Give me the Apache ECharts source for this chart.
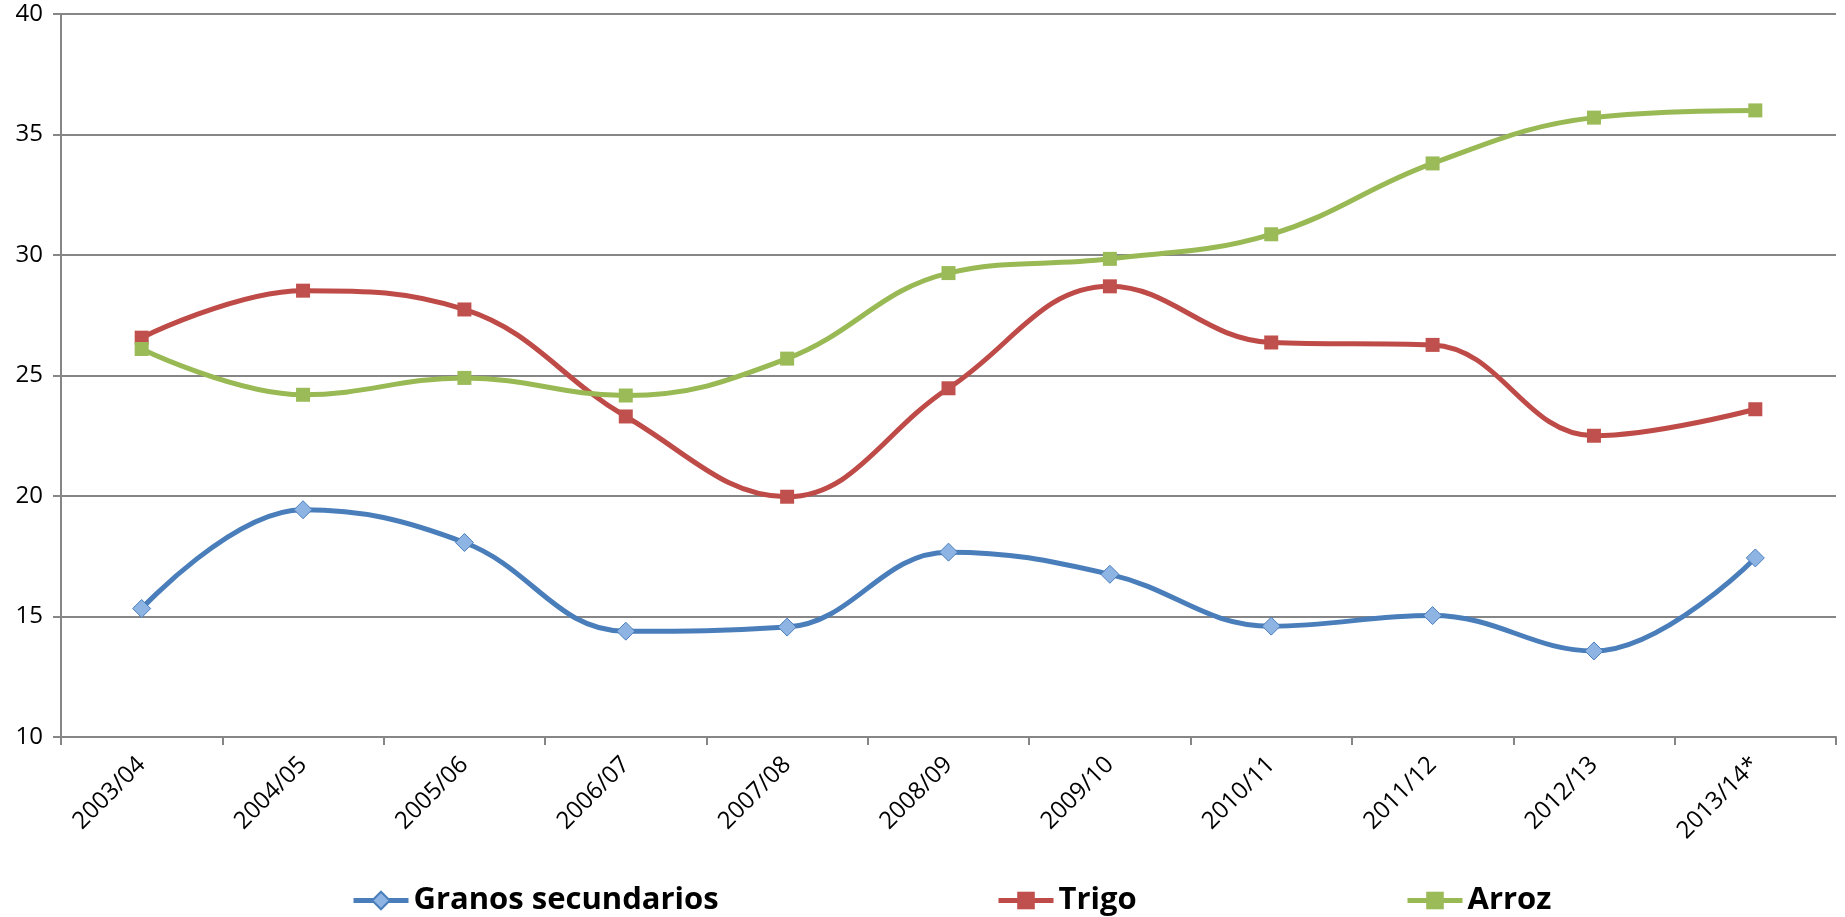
<!DOCTYPE html>
<html>
<head>
<meta charset="utf-8">
<script src="https://cdn.jsdelivr.net/npm/echarts@6/dist/echarts.min.js"></script>
<style>
html,body{margin:0;padding:0;background:#fff;}
#c{width:1845px;height:917px;}
</style>
</head>
<body>
<div id="c"></div>
<script>
const categories = ['2003/04','2004/05','2005/06','2006/07','2007/08','2008/09','2009/10','2010/11','2011/12','2012/13','2013/14*'];
const granos = [15.33, 19.43, 18.07, 14.39, 14.56, 17.67, 16.75, 14.6, 15.04, 13.57, 17.43];
const trigo = [26.57, 28.52, 27.74, 23.3, 19.97, 24.47, 28.7, 26.37, 26.27, 22.5, 23.6];
const arroz = [26.1, 24.2, 24.9, 24.17, 25.7, 29.25, 29.84, 30.86, 33.8, 35.7, 36.0];
const yTicks = {min: 10, max: 40, interval: 5};

const FONT = '"Open Sans", sans-serif';
const chart = echarts.init(document.getElementById('c'));
const legendBase = {
  orient: 'horizontal', top: 880, itemWidth: 55, itemHeight: 22, itemGap: 6,
  lineStyle: {width: 5},
  textStyle: {fontFamily: FONT, fontWeight: 'bold', fontSize: 31, color: '#000'}
};
const SMOOTH = 0.4;
chart.setOption({
  animation: false,
  grid: {left: 61, right: 9, top: 14, bottom: 180, containLabel: false},
  legend: [
    Object.assign({}, legendBase, {left: 346, data: ['Granos secundarios']}),
    Object.assign({}, legendBase, {left: 991, data: ['Trigo']}),
    Object.assign({}, legendBase, {left: 1400, data: ['Arroz']})
  ],
  xAxis: {
    type: 'category', data: categories, boundaryGap: true,
    axisLine: {lineStyle: {color: '#868686', width: 2}},
    axisTick: {show: true, length: 8, alignWithLabel: false, lineStyle: {color: '#868686', width: 2}},
    axisLabel: {rotate: 45, margin: 24, fontFamily: FONT, fontSize: 24, color: '#000', interval: 0}
  },
  yAxis: {
    type: 'value', min: yTicks.min, max: yTicks.max, interval: yTicks.interval,
    axisLine: {show: true, lineStyle: {color: '#868686', width: 2}},
    axisTick: {show: true, length: 8, inside: false, lineStyle: {color: '#868686', width: 2}},
    splitLine: {show: true, lineStyle: {color: '#868686', width: 2}},
    axisLabel: {margin: 18, fontFamily: FONT, fontSize: 24, color: '#000'}
  },
  series: [
    {
      name: 'Granos secundarios', type: 'line', data: granos, smooth: SMOOTH,
      symbol: 'diamond', symbolSize: 18,
      lineStyle: {color: '#4A7EBB', width: 5},
      itemStyle: {color: '#8EB4E3', borderColor: '#4A7EBB', borderWidth: 1}
    },
    {
      name: 'Trigo', type: 'line', data: trigo, smooth: SMOOTH,
      symbol: 'rect', symbolSize: 14,
      lineStyle: {color: '#BE4B48', width: 5},
      itemStyle: {color: '#C0504D', borderColor: '#C0504D', borderWidth: 0}
    },
    {
      name: 'Arroz', type: 'line', data: arroz, smooth: SMOOTH,
      symbol: 'rect', symbolSize: 14,
      lineStyle: {color: '#98B954', width: 5},
      itemStyle: {color: '#9BBB59', borderColor: '#9BBB59', borderWidth: 0}
    }
  ]
});
</script>
</body>
</html>
